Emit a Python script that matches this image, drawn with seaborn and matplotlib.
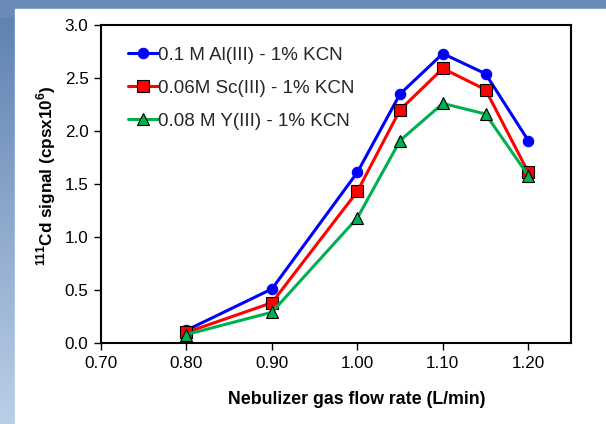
import numpy as np
import pandas as pd
import matplotlib
matplotlib.use("Agg")
import matplotlib.pyplot as plt
import seaborn as sns

# Nebulizer gas flow (L/min) and 111Cd signal (cps x 10^6)
flow = [0.80, 0.90, 1.00, 1.05, 1.10, 1.15, 1.20]
al_signal = [0.12, 0.51, 1.61, 2.35, 2.73, 2.54, 1.91]
sc_signal = [0.10, 0.38, 1.43, 2.20, 2.59, 2.39, 1.61]
y_signal = [0.08, 0.29, 1.18, 1.91, 2.26, 2.16, 1.58]

labels = ["0.1 M Al(III) - 1% KCN", "0.06M Sc(III) - 1% KCN", "0.08 M Y(III) - 1% KCN"]
x_ticks = [0.70, 0.80, 0.90, 1.00, 1.10, 1.20]
y_ticks = [0.0, 0.5, 1.0, 1.5, 2.0, 2.5, 3.0]

sns.set_theme(style="white")
plt.rcParams["font.family"] = ["Liberation Sans", "DejaVu Sans"]
plt.rcParams["mathtext.fontset"] = "custom"
plt.rcParams["mathtext.rm"] = "Liberation Sans"
plt.rcParams["mathtext.bf"] = "Liberation Sans:bold"

W, H = 606, 424
fig = plt.figure(figsize=(W / 100, H / 100), dpi=100)

# slide-style backdrop: blue top band and a vertical gradient strip at left
bg = fig.add_axes([0, 0, 1, 1], zorder=-10)
bg.set_axis_off()
top = np.array([0.36, 0.50, 0.69])
bottom = np.array([0.73, 0.81, 0.91])
t = np.linspace(0, 1, 200)[:, None]
grad = (top[None, :] * (1 - t) + bottom[None, :] * t)[:, None, :]
bg.imshow(grad, aspect="auto", extent=[0, 1, 0, 1], origin="upper")
bg.add_patch(plt.Rectangle((0, 0.96), 1, 0.04, color="#6a8bb6", transform=bg.transAxes))
bg.add_patch(plt.Rectangle((15 / W, 0), 1, 1 - 9 / H, color="white", transform=bg.transAxes))
bg.set_xlim(0, 1)
bg.set_ylim(0, 1)

ax = fig.add_axes([101 / W, 1 - 343 / H, 470 / W, 318 / H])
ax.set_facecolor("white")

df = pd.DataFrame({"flow": flow, "Al": al_signal, "Sc": sc_signal, "Y": y_signal})
styles = [
    ("Al", labels[0], "#0000ff", "o", "#0000ff", 7.5),
    ("Sc", labels[1], "#ff0000", "s", "black", 8.5),
    ("Y", labels[2], "#00b050", "^", "black", 8.5),
]
for col, lab, color, mk, edge, ms in styles:
    sns.lineplot(data=df, x="flow", y=col, ax=ax, color=color, linewidth=2.2,
                 marker=mk, markersize=ms, markeredgecolor=edge,
                 markeredgewidth=0.8, label=lab)

ax.set_xlim(0.70, 1.25)
ax.set_ylim(0.0, 3.0)
ax.set_xticks(x_ticks)
ax.set_xticklabels([f"{v:.2f}" for v in x_ticks])
ax.set_yticks(y_ticks)
ax.set_yticklabels([f"{v:.1f}" for v in y_ticks])
ax.tick_params(axis="both", which="major", direction="out", length=5, width=1,
               color="black", labelsize=12.3, labelcolor="black", pad=4,
               bottom=True, left=True)
for s in ax.spines.values():
    s.set_visible(True)
    s.set_color("black")
    s.set_linewidth(1.5)

ax.set_xlabel("Nebulizer gas flow rate (L/min)", fontsize=12.8, fontweight="bold",
              color="black", labelpad=15)
ax.set_ylabel(r"$^{\mathbf{111}}$Cd signal (cpsx10$^{\mathbf{6}}$)", fontsize=12.3,
              fontweight="bold", color="black", labelpad=5)
ax.xaxis.label.set_x(0.545)
ax.yaxis.label.set_y(0.525)

leg = ax.legend(loc="upper left", frameon=False, fontsize=13.5, handlelength=1.6,
                handletextpad=0.0, labelspacing=0.85, borderaxespad=0.0,
                borderpad=0.0, bbox_to_anchor=(27 / 470, 0.932))

fig.savefig("out.png", dpi=100)
